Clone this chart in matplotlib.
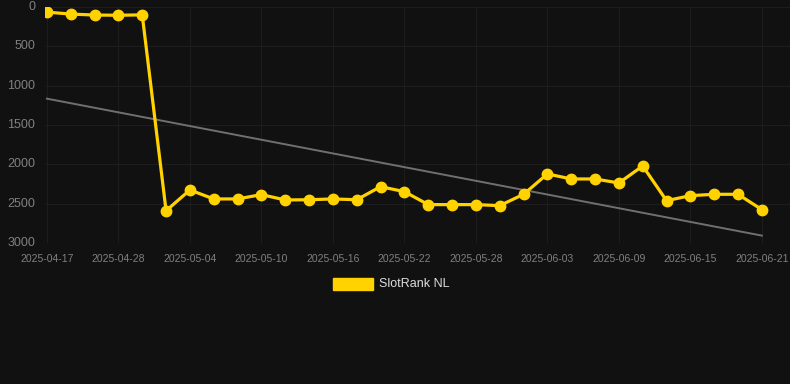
import matplotlib
matplotlib.use("Agg")
import matplotlib.pyplot as plt
from matplotlib.patches import Rectangle

plt.rcParams['font.family'] = ['Liberation Sans', 'DejaVu Sans']

dates = ['2025-04-17', '2025-04-21', '2025-04-25', '2025-04-28', '2025-04-30',
         '2025-05-02', '2025-05-04', '2025-05-06', '2025-05-08', '2025-05-10',
         '2025-05-12', '2025-05-14', '2025-05-16', '2025-05-18', '2025-05-20',
         '2025-05-22', '2025-05-24', '2025-05-26', '2025-05-28', '2025-05-30',
         '2025-06-01', '2025-06-03', '2025-06-05', '2025-06-07', '2025-06-09',
         '2025-06-11', '2025-06-13', '2025-06-15', '2025-06-17', '2025-06-19',
         '2025-06-21']
ranks = [65, 90, 102, 105, 100, 2590, 2326, 2440, 2440, 2385,
         2453, 2450, 2440, 2450, 2284, 2347, 2512, 2512, 2512, 2525,
         2381, 2122, 2186, 2186, 2237, 2021, 2462, 2398, 2381, 2381,
         2576]
trend_ends = [1165, 2906]
yticks = [0, 500, 1000, 1500, 2000, 2500, 3000]

bg = '#111111'
gold = '#FFD200'

fig = plt.figure(figsize=(7.9, 3.84), dpi=100, facecolor=bg)
ax = fig.add_axes([45 / 790, (384 - 243) / 384, 745 / 790, 236 / 384])
ax.set_facecolor(bg)

x = list(range(len(dates)))
ax.plot([x[0], x[-1]], trend_ends, color='#707070', lw=1.4, zorder=2)
ax.plot(x, ranks, color=gold, lw=2.3, marker='o', markersize=7.5,
        markerfacecolor=gold, markeredgecolor=gold, zorder=3)

ax.set_ylim(3000, 0)
ax.set_xlim(-0.08, 31.18)
ax.set_yticks(yticks)
ax.set_xticks(x[::3])
ax.set_xticklabels(dates[::3])
ax.grid(True, color='#1d1d1d', lw=0.8)
ax.set_axisbelow(True)
for s in ax.spines.values():
    s.set_visible(False)
ax.tick_params(axis='y', length=0, pad=7, labelsize=9, colors='#808080')
ax.tick_params(axis='x', length=0, pad=8, labelsize=7.5, colors='#808080')
for lbl in ax.get_yticklabels():
    lbl.set_verticalalignment('center')

# legend
fig.patches.append(Rectangle((333 / 790, 1 - 290 / 384), 40 / 790, 12 / 384,
                             transform=fig.transFigure, facecolor=gold,
                             edgecolor=gold, figure=fig))
fig.text(379 / 790, 1 - 284 / 384, 'SlotRank NL', color='#dddddd',
         fontsize=9, va='center', ha='left')

fig.savefig('out.png', dpi=100, facecolor=bg)
